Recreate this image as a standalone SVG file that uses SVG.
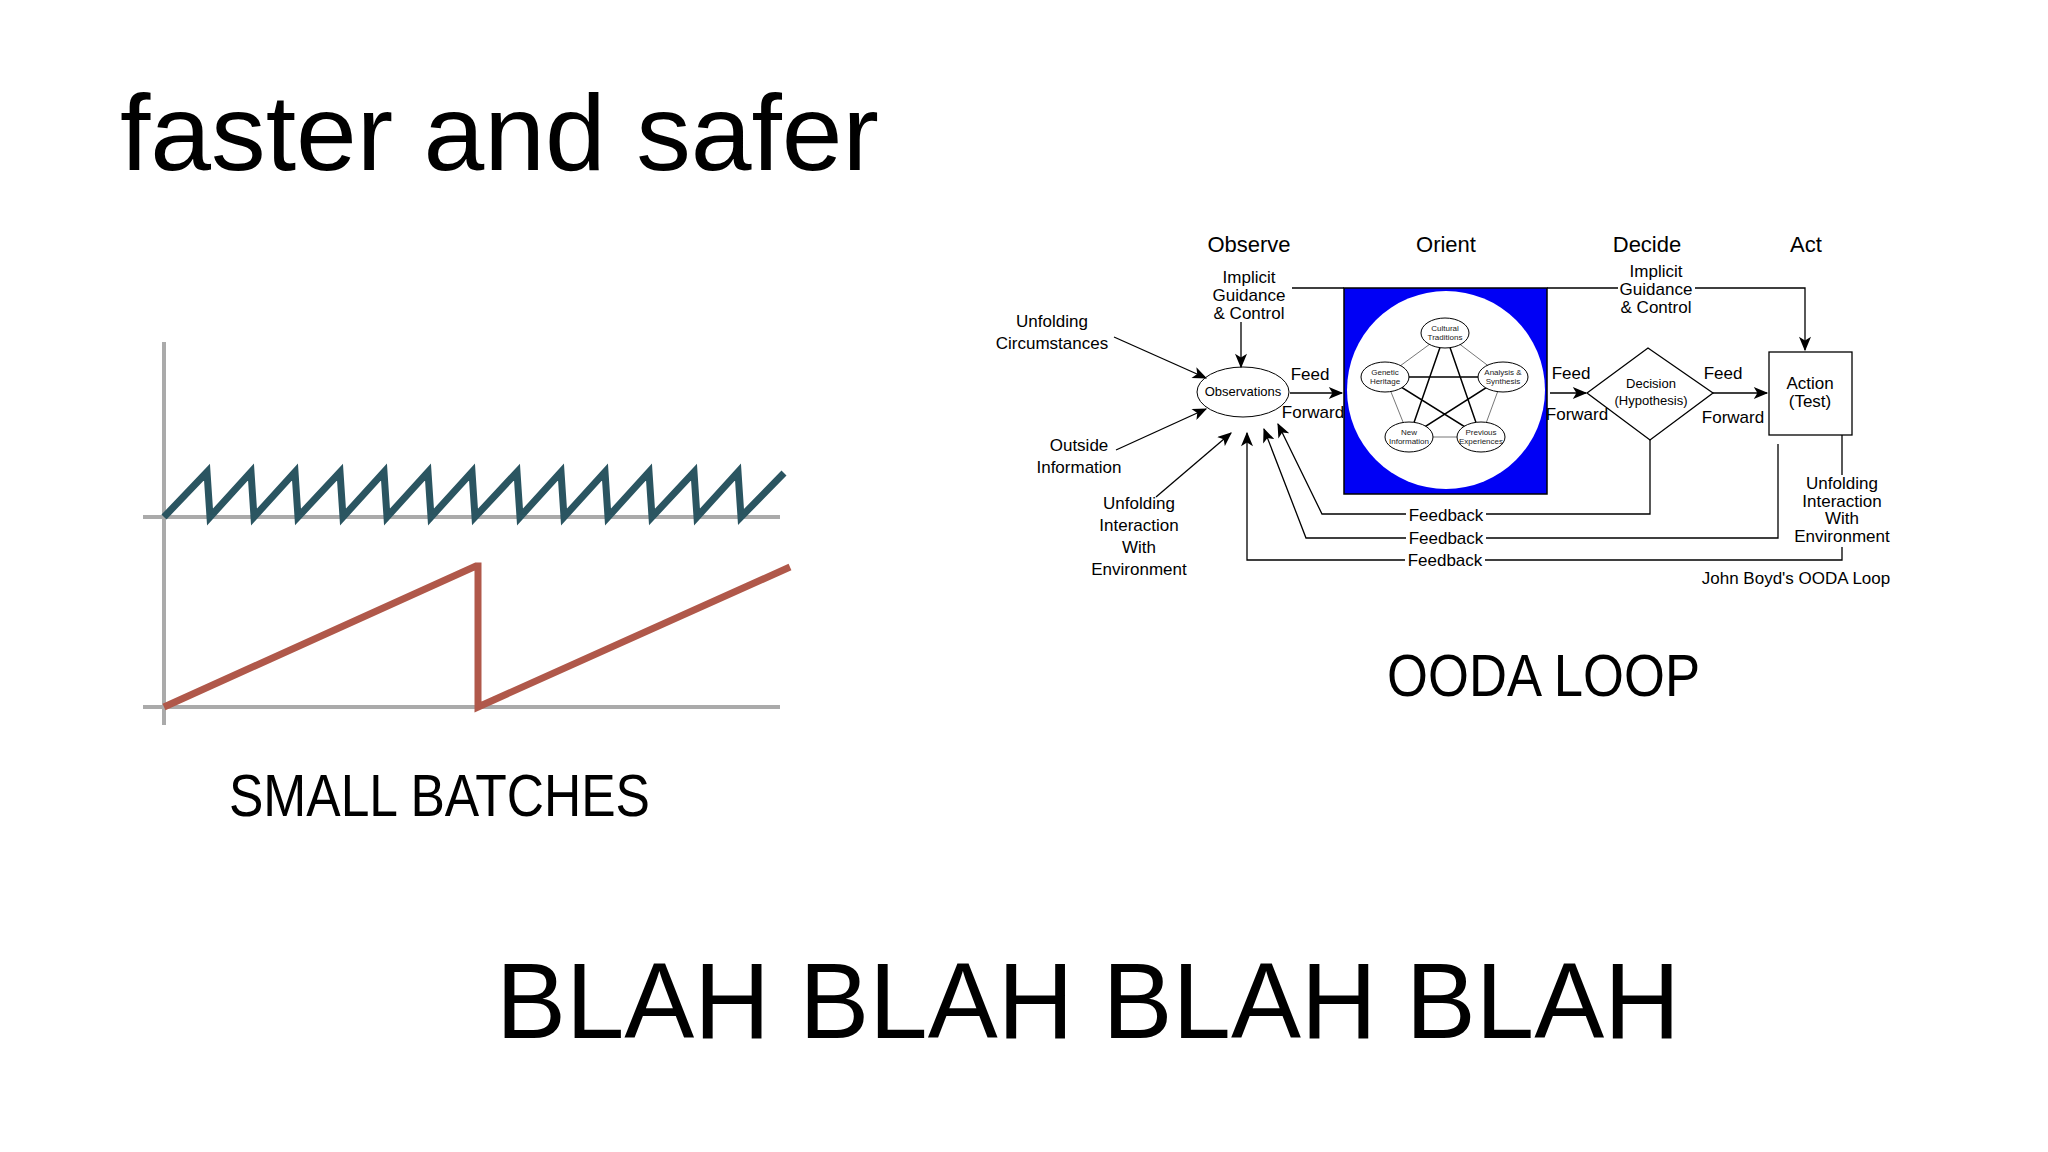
<svg xmlns="http://www.w3.org/2000/svg" width="2048" height="1152" viewBox="0 0 2048 1152">
<defs>
<style>
text{font-family:"Liberation Sans",Arial,sans-serif;fill:#000}
.big{font-weight:300}
.h{font-size:22px;text-anchor:middle}
.l{font-size:17px;text-anchor:middle}
.s{font-size:8px;text-anchor:middle;fill:#222}
.ln{fill:none;stroke:#000;stroke-width:1.3}
.ax{stroke:#aaa;stroke-width:4;fill:none}
</style>
<marker id="ar" viewBox="0 0 12 10" refX="11" refY="5" markerWidth="16" markerHeight="12" markerUnits="userSpaceOnUse" orient="auto"><path d="M0,0 L12,5 L0,10 L3,5 Z" fill="#000"/></marker>
</defs>
<rect width="2048" height="1152" fill="#fff"/>
<text class="big" x="120" y="170" font-size="108" textLength="759" lengthAdjust="spacingAndGlyphs">faster and safer</text>
<text class="big" x="229" y="816" font-size="60" textLength="421" lengthAdjust="spacingAndGlyphs">SMALL BATCHES</text>
<text class="big" x="1387" y="696" font-size="60" textLength="313" lengthAdjust="spacingAndGlyphs">OODA LOOP</text>
<text class="big" x="496" y="1038" font-size="108" textLength="1184" lengthAdjust="spacingAndGlyphs">BLAH BLAH BLAH BLAH</text>
<g id="chart">
<path class="ax" d="M164,342 V725 M143,517 H780 M143,707 H780"/>
<polyline fill="none" stroke="#2b5561" stroke-width="7" stroke-linejoin="miter" points="164,517 207,472 210,517 251,472 254,517 295,472 298,517 340,472 343,517 384,472 387,517 428,472 431,517 472,472 475,517 517,472 520,517 561,472 564,517 605,472 608,517 649,472 652,517 694,472 697,517 738,472 741,517 784,473"/>
<polyline fill="none" stroke="#b0584a" stroke-width="7" points="164,707 476,566 478,566 478,707 790,567"/>
</g>
<g id="headers">
<text class="h" x="1249" y="252">Observe</text>
<text class="h" x="1446" y="252">Orient</text>
<text class="h" x="1647" y="252">Decide</text>
<text class="h" x="1806" y="252">Act</text>
</g>
<g id="orient">
<rect x="1344" y="288" width="203" height="206" fill="#0000f5" stroke="#000" stroke-width="1.5"/>
<circle cx="1446" cy="390" r="99" fill="#fff"/>
<g stroke="#777" stroke-width="1" fill="none">
<path d="M1445,333 L1385,377 L1409,437 L1481,437 L1503,377 Z"/>
</g>
<g stroke="#000" stroke-width="1.5" fill="none">
<path d="M1445,333 L1409,437 L1503,377 L1385,377 L1481,437 Z"/>
</g>
<g fill="#fff" stroke="#000" stroke-width="1">
<ellipse cx="1445" cy="333" rx="24" ry="15"/>
<ellipse cx="1385" cy="377" rx="24" ry="15"/>
<ellipse cx="1503" cy="377" rx="25" ry="15"/>
<ellipse cx="1409" cy="437" rx="24" ry="15"/>
<ellipse cx="1481" cy="437" rx="24" ry="15"/>
</g>
<text class="s" x="1445" y="331">Cultural</text><text class="s" x="1445" y="340">Traditions</text>
<text class="s" x="1385" y="375">Genetic</text><text class="s" x="1385" y="384">Heritage</text>
<text class="s" x="1503" y="375">Analysis &amp;</text><text class="s" x="1503" y="384">Synthesis</text>
<text class="s" x="1409" y="435">New</text><text class="s" x="1409" y="444">Information</text>
<text class="s" x="1481" y="435">Previous</text><text class="s" x="1481" y="444">Experiences</text>
</g>
<g id="observations">
<ellipse cx="1243" cy="392" rx="46" ry="25" fill="#fff" stroke="#000" stroke-width="1"/>
<text x="1243" y="396" font-size="13" text-anchor="middle">Observations</text>
</g>
<g id="decision">
<path d="M1587,393 L1648,348 L1713,393 L1650,440 Z" fill="#fff" stroke="#000" stroke-width="1.3"/>
<text x="1651" y="388" font-size="13" text-anchor="middle">Decision</text>
<text x="1651" y="405" font-size="13" text-anchor="middle">(Hypothesis)</text>
</g>
<g id="action">
<rect x="1769" y="352" width="83" height="83" fill="#fff" stroke="#000" stroke-width="1.3"/>
<text class="l" x="1810" y="389">Action</text>
<text class="l" x="1810" y="407">(Test)</text>
</g>
<g id="labels">
<text class="l" x="1249" y="283">Implicit</text><text class="l" x="1249" y="301">Guidance</text><text class="l" x="1249" y="319">&amp; Control</text>
<text class="l" x="1656" y="277">Implicit</text><text class="l" x="1656" y="295">Guidance</text><text class="l" x="1656" y="313">&amp; Control</text>
<text class="l" x="1052" y="327">Unfolding</text><text class="l" x="1052" y="349">Circumstances</text>
<text class="l" x="1079" y="451">Outside</text><text class="l" x="1079" y="473">Information</text>
<text class="l" x="1139" y="509">Unfolding</text><text class="l" x="1139" y="531">Interaction</text><text class="l" x="1139" y="553">With</text><text class="l" x="1139" y="575">Environment</text>
<text class="l" x="1842" y="489">Unfolding</text><text class="l" x="1842" y="507">Interaction</text><text class="l" x="1842" y="524">With</text><text class="l" x="1842" y="542">Environment</text>
<text class="l" x="1310" y="380">Feed</text><text class="l" x="1313" y="418">Forward</text>
<text class="l" x="1571" y="379">Feed</text><text class="l" x="1577" y="420">Forward</text>
<text class="l" x="1723" y="379">Feed</text><text class="l" x="1733" y="423">Forward</text>
<text class="l" x="1446" y="521">Feedback</text>
<text class="l" x="1446" y="544">Feedback</text>
<text class="l" x="1445" y="566">Feedback</text>
<text class="l" x="1796" y="584">John Boyd's OODA Loop</text>
</g>
<g id="connectors">
<path class="ln" d="M1292,288 H1344 M1547,288 H1618 M1695,288 H1805 V350" marker-end="url(#ar)"/>
<path class="ln" d="M1241,322 V367" marker-end="url(#ar)"/>
<path class="ln" d="M1114,337 L1206,378" marker-end="url(#ar)"/>
<path class="ln" d="M1116,450 L1206,409" marker-end="url(#ar)"/>
<path class="ln" d="M1156,497 L1231,433" marker-end="url(#ar)"/>
<path class="ln" d="M1290,393 H1342" marker-end="url(#ar)"/>
<path class="ln" d="M1550,393 H1586" marker-end="url(#ar)"/>
<path class="ln" d="M1713,393 H1767" marker-end="url(#ar)"/>
<path class="ln" d="M1650,440 V514 H1486 M1406,514 H1322 L1278,424" marker-end="url(#ar)"/>
<path class="ln" d="M1778,444 V538 H1486 M1406,538 H1306 L1264,429" marker-end="url(#ar)"/>
<path class="ln" d="M1842,435 V475 M1842,547 V560 H1485 M1405,560 H1247 V433" marker-end="url(#ar)"/>
</g>
</svg>
